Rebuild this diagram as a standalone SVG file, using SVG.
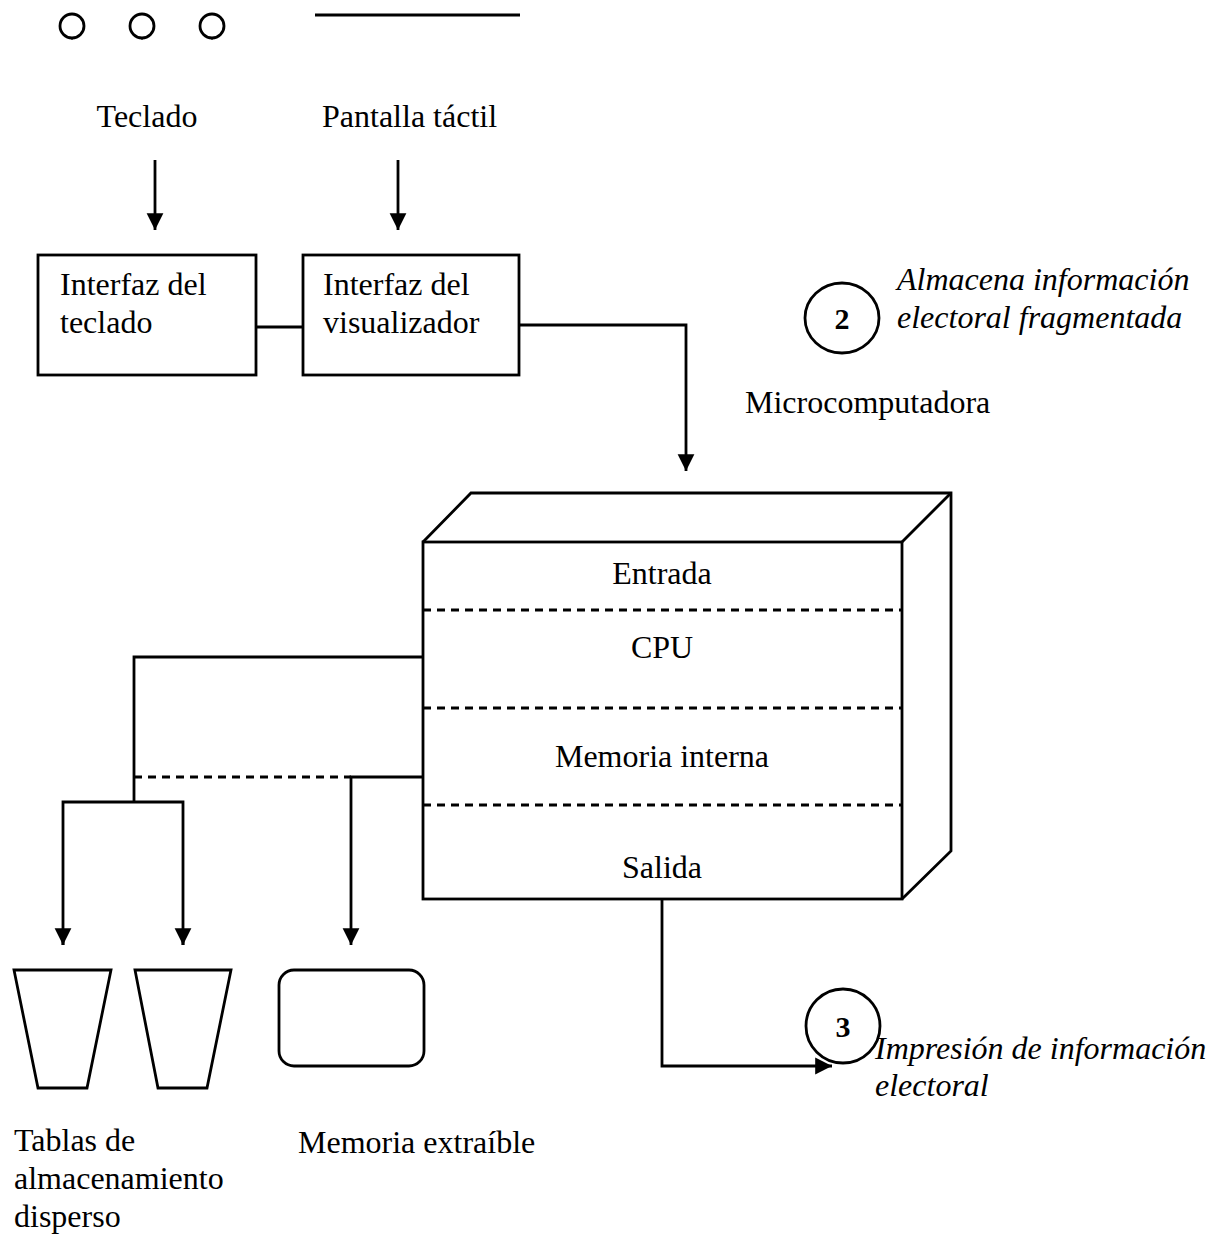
<svg xmlns="http://www.w3.org/2000/svg" width="1214" height="1236" viewBox="0 0 1214 1236">
  <style>
    .ln { fill: none; stroke: #000; stroke-width: 2.8; }
    .dash { fill: none; stroke: #000; stroke-width: 2.8; stroke-dasharray: 8 6; }
    .shape { fill: #fff; stroke: #000; stroke-width: 2.8; stroke-linejoin: miter; }
    .t { font-family: "Liberation Serif", "Times New Roman", serif; font-size: 32px; fill: #000; }
    .ti { font-family: "Liberation Serif", "Times New Roman", serif; font-size: 32px; font-style: italic; fill: #000; }
    .tb { font-family: "Liberation Serif", "Times New Roman", serif; font-size: 30px; font-weight: bold; fill: #000; }
  </style>
  <defs>
    <marker id="arrow" viewBox="0 0 10 10" refX="10" refY="5" markerWidth="6" markerHeight="6.5" markerUnits="strokeWidth" orient="auto">
      <path d="M0,0 L10,5 L0,10 Z" fill="#000"/>
    </marker>
  </defs>
  <rect width="1214" height="1236" fill="#fff"/>

  <!-- keypad symbol and touch screen symbol -->
  <g id="keys">
    <circle cx="72" cy="26" r="12" class="ln"/>
    <circle cx="142" cy="26" r="12" class="ln"/>
    <circle cx="212" cy="26" r="12" class="ln"/>
    <line x1="72" y1="38" x2="72" y2="40" stroke="#000" stroke-width="1"/>
    <line x1="142" y1="38" x2="142" y2="40" stroke="#000" stroke-width="1"/>
    <line x1="212" y1="38" x2="212" y2="40" stroke="#000" stroke-width="1"/>
  </g>
  <g id="screen">
    <line x1="315" y1="15" x2="520" y2="15" stroke="#000" stroke-width="3.2"/>
  </g>

  <g id="lbl-teclado"><text class="t" x="147" y="127" text-anchor="middle">Teclado</text></g>
  <g id="lbl-pantalla"><text class="t" x="322" y="127">Pantalla táctil</text></g>

  <g id="if-teclado">
    <rect x="38" y="255" width="218" height="120" class="shape"/>
    <text class="t" x="60" y="295">Interfaz del</text>
    <text class="t" x="60" y="333">teclado</text>
  </g>
  <g id="if-visual">
    <rect x="303" y="255" width="216" height="120" class="shape"/>
    <text class="t" x="323" y="295">Interfaz del</text>
    <text class="t" x="323" y="333">visualizador</text>
  </g>

  <g id="note-2">
    <ellipse cx="842" cy="318" rx="37" ry="35" class="ln"/>
    <text class="tb" x="842" y="329" text-anchor="middle">2</text>
    <text class="ti" x="897" y="290">Almacena información</text>
    <text class="ti" x="897" y="328">electoral fragmentada</text>
  </g>

  <g id="lbl-micro"><text class="t" x="745" y="413">Microcomputadora</text></g>

  <!-- microcomputer drawn as a box in perspective -->
  <g id="micro">
    <path d="M423,542 L471,493 L951,493 L951,851 L902,899" class="shape"/>
    <line x1="902" y1="542" x2="951" y2="493" class="ln"/>
    <rect x="423" y="542" width="479" height="357" class="shape"/>
    <line x1="423" y1="610" x2="902" y2="610" class="dash"/>
    <line x1="423" y1="708" x2="902" y2="708" class="dash"/>
    <line x1="423" y1="805" x2="902" y2="805" class="dash"/>
    <text class="t" x="662" y="584" text-anchor="middle">Entrada</text>
    <text class="t" x="662" y="658" text-anchor="middle">CPU</text>
    <text class="t" x="662" y="767" text-anchor="middle">Memoria interna</text>
    <text class="t" x="662" y="878" text-anchor="middle">Salida</text>
  </g>

  <g id="table-1"><path d="M14,970 L111,970 L87,1088 L38,1088 Z" class="shape"/></g>
  <g id="table-2"><path d="M135,970 L231,970 L207,1088 L158,1088 Z" class="shape"/></g>
  <g id="removable"><rect x="279" y="970" width="145" height="96" rx="15" ry="15" class="shape"/></g>

  <g id="lbl-tablas">
    <text class="t" x="14" y="1151">Tablas de</text>
    <text class="t" x="14" y="1189">almacenamiento</text>
    <text class="t" x="14" y="1227">disperso</text>
  </g>
  <g id="lbl-extraible"><text class="t" x="298" y="1153">Memoria extraíble</text></g>

  <g id="note-3">
    <ellipse cx="843" cy="1026" rx="37" ry="37" class="ln"/>
    <text class="tb" x="843" y="1037" text-anchor="middle">3</text>
    <text class="ti" x="875" y="1059">Impresión de información</text>
    <text class="ti" x="875" y="1096">electoral</text>
  </g>

  <g id="connectors">
    <line x1="155" y1="160" x2="155" y2="230" class="ln" marker-end="url(#arrow)"/>
    <line x1="398" y1="160" x2="398" y2="230" class="ln" marker-end="url(#arrow)"/>
    <line x1="256" y1="327" x2="303" y2="327" class="ln"/>
    <polyline points="519,325 686,325 686,471" class="ln" marker-end="url(#arrow)"/>
    <polyline points="423,657 134,657 134,802" class="ln"/>
    <line x1="134" y1="777" x2="351" y2="777" class="dash"/>
    <polyline points="423,777 351,777 351,945" class="ln" marker-end="url(#arrow)"/>
    <polyline points="63,945 63,802 183,802 183,945" class="ln"/>
    <line x1="63" y1="930" x2="63" y2="945" class="ln" marker-end="url(#arrow)"/>
    <line x1="183" y1="930" x2="183" y2="945" class="ln" marker-end="url(#arrow)"/>
    <polyline points="662,899 662,1066 832,1066" class="ln" marker-end="url(#arrow)"/>
  </g>
</svg>
